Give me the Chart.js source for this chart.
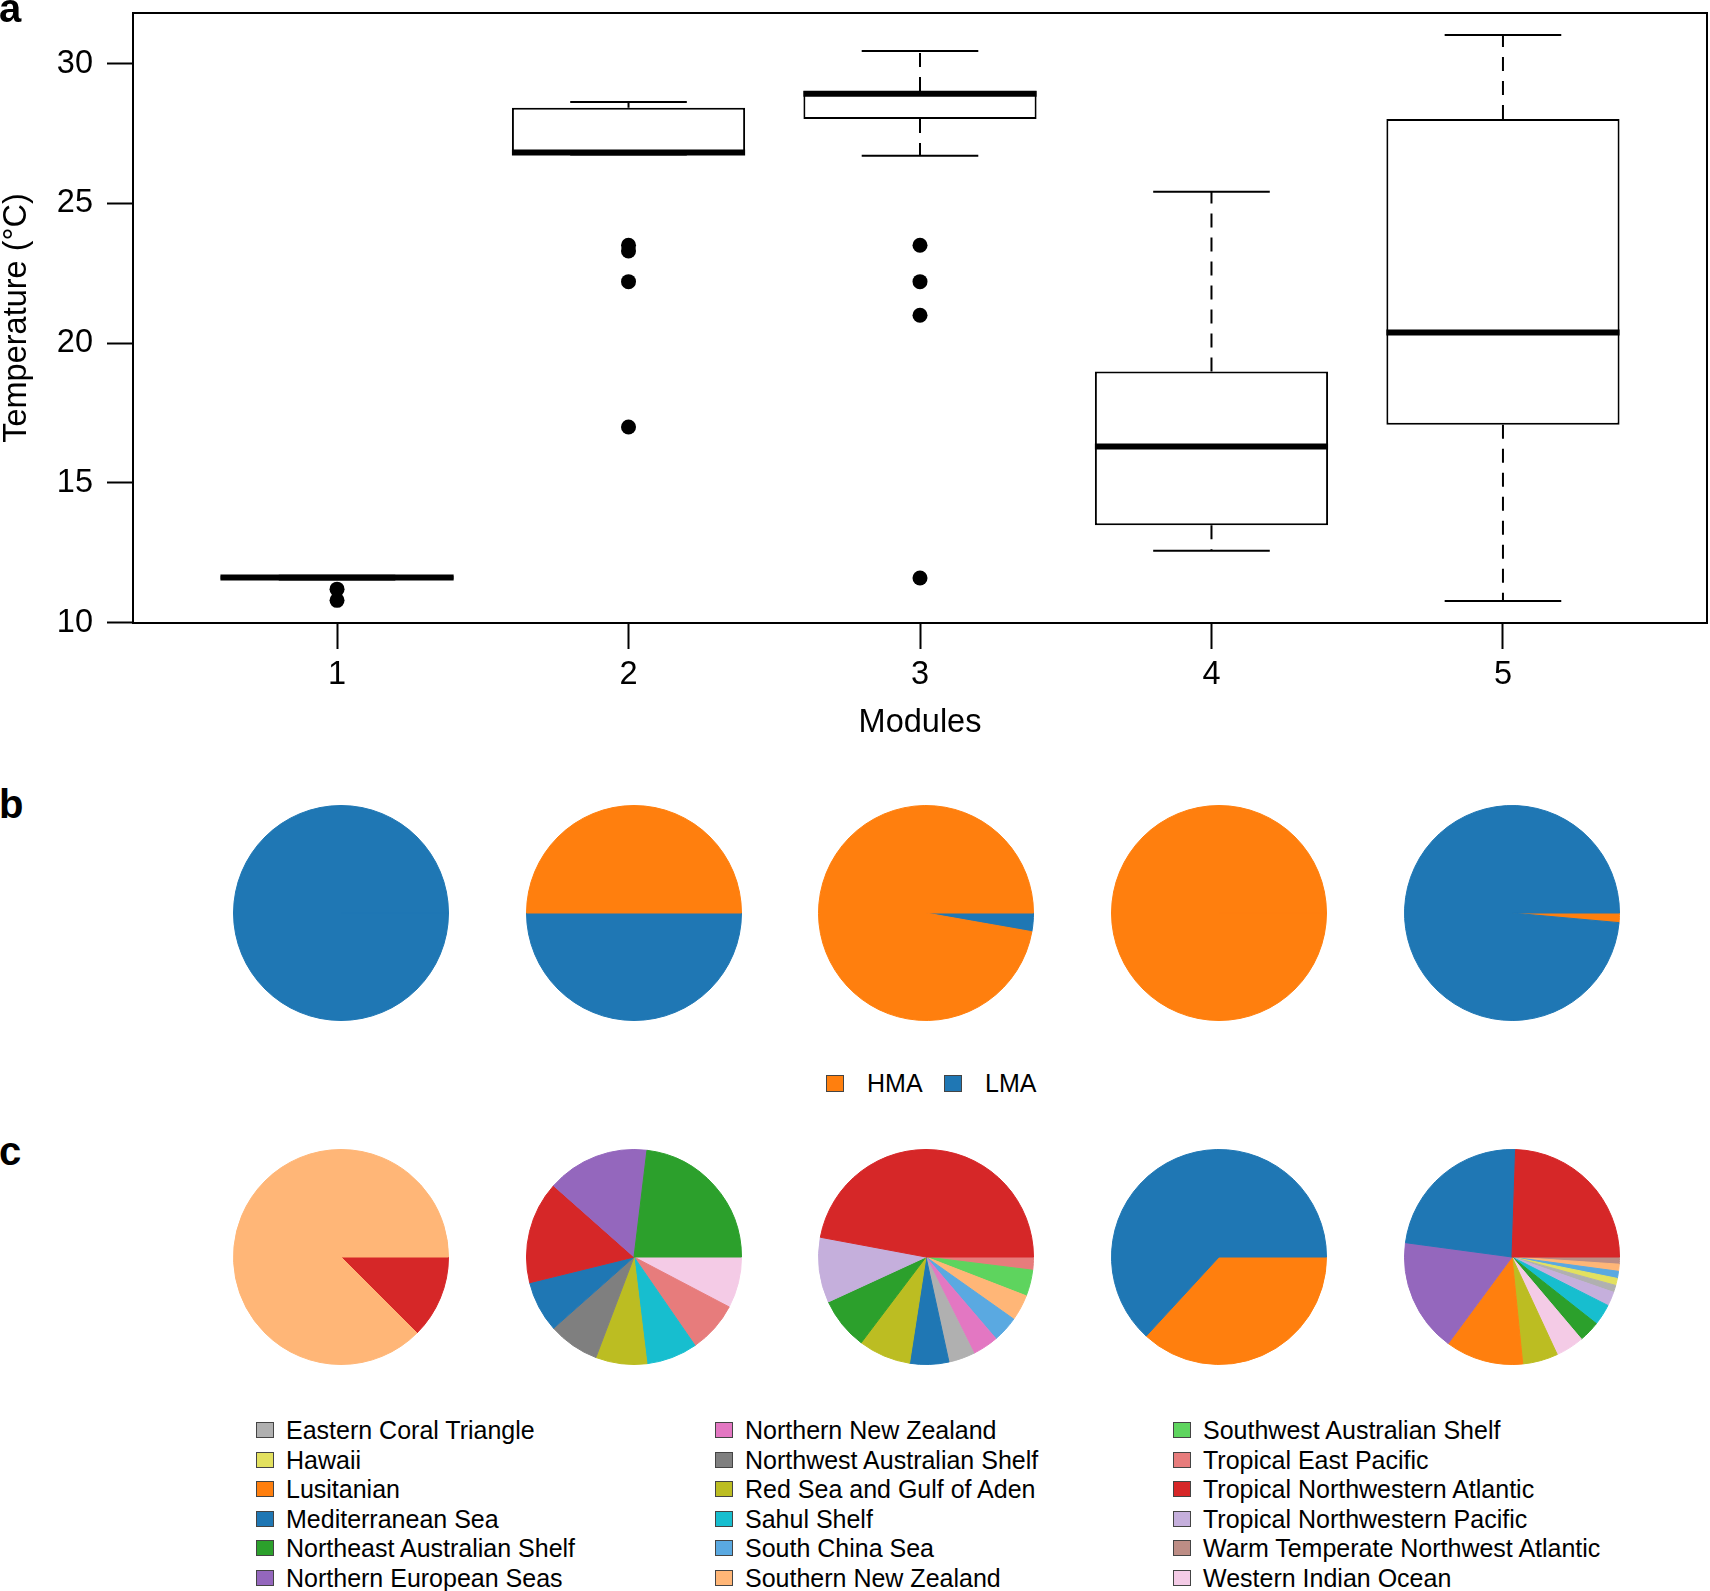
<!DOCTYPE html>
<html>
<head>
<meta charset="utf-8">
<script src="https://cdn.jsdelivr.net/npm/chart.js@4.4.1/dist/chart.umd.min.js"></script>
<style>
  html, body { margin: 0; padding: 0; background: #fff; }
  body { position: relative; width: 1710px; height: 1591px; overflow: hidden;
         font-family: "Liberation Sans", Arial, Helvetica, sans-serif; color: #000; }
  canvas { position: absolute; }
  .tag { position: absolute; font-weight: bold; font-size: 40px; line-height: 40px; }
  .key { position: absolute; font-size: 25px; line-height: 30px; white-space: nowrap; }
  .sq { position: absolute; box-sizing: border-box; border: 1px solid #444; }
</style>
</head>
<body>
<canvas id="boxplot" width="1710" height="760" style="left:0;top:0"></canvas>
<div class="tag" style="left:-1px;top:-12px">a</div>
<div class="tag" style="left:-1px;top:784px">b</div>
<div class="tag" style="left:-1px;top:1131px">c</div>

<script>
// ---- panel a : temperature per module ----
const modules = ['1', '2', '3', '4', '5'];
const whiskerLow = [11.55, 26.75, 26.70, 12.57, 10.78];
const boxQ1 = [11.55, 26.75, 28.02, 13.49, 17.08];
const boxMedian = [11.62, 26.82, 28.92, 16.30, 20.38];
const boxQ3 = [11.68, 28.42, 29.02, 18.99, 28.02];
const whiskerHigh = [11.68, 28.63, 30.45, 25.42, 31.02];
const outliers = [[11.2, 10.8], [23.5, 23.3, 22.2, 17.0], [23.5, 22.2, 21.0, 11.6], [], []];
const yTicks = [10, 15, 20, 25, 30];
const yMin = 9.99, yMax = 31.81;

// ---- panel b : HMA / LMA ----
const massTypes = ['HMA', 'LMA'];
const massColors = ['#ff7f0e', '#1f77b4'];
const hmaCounts = [0, 6, 35, 19, 1];
const lmaCounts = [8, 6, 1, 0, 69];

// ---- panel c : ecoregions ----
const regions = [
  'Eastern Coral Triangle', 'Hawaii', 'Lusitanian', 'Mediterranean Sea',
  'Northeast Australian Shelf', 'Northern European Seas', 'Northern New Zealand',
  'Northwest Australian Shelf', 'Red Sea and Gulf of Aden', 'Sahul Shelf',
  'South China Sea', 'Southern New Zealand', 'Southwest Australian Shelf',
  'Tropical East Pacific', 'Tropical Northwestern Atlantic',
  'Tropical Northwestern Pacific', 'Warm Temperate Northwest Atlantic', 'Western Indian Ocean'
];
const regionColors = [
  '#b0b0b0', '#e3e15f', '#ff7f0e', '#1f77b4', '#2ca02c', '#9467bd', '#e377c2',
  '#7f7f7f', '#bcbd22', '#17becf', '#5aa9e1', '#ffb677', '#5ed45e', '#e77c7c',
  '#d62728', '#c5afdc', '#bd8d85', '#f4cbe6'
];
const module1Regions = [0, 0, 0, 0, 0, 0, 0, 0, 0, 0, 0, 7, 0, 0, 1, 0, 0, 0];
const module2Regions = [0, 0, 0, 1, 3, 2, 0, 1, 1, 1, 0, 0, 0, 1, 2, 0, 0, 1];
const module3Regions = [2, 0, 0, 3, 4, 0, 2, 0, 4, 0, 2, 2, 2, 1, 24, 5, 0, 0];
const module4Regions = [0, 0, 7, 12, 0, 0, 0, 0, 0, 0, 0, 0, 0, 0, 0, 0, 0, 0];
const module5Regions = [1, 1, 11, 22, 3, 16, 0, 0, 5, 3, 1, 1, 0, 0, 23, 2, 1, 4];
const regionCounts = [module1Regions, module2Regions, module3Regions, module4Regions, module5Regions];

Chart.defaults.font.family = '"Liberation Sans", Arial, Helvetica, sans-serif';
Chart.defaults.color = '#000';

const boxHalf = 0.4;

// whiskers, caps, medians and the frame round the plot
const boxParts = {
  id: 'boxParts',
  afterDatasetsDraw(chart) {
    const { ctx, chartArea: area, scales: { x, y } } = chart;
    ctx.save();
    ctx.strokeStyle = '#000';
    modules.forEach((m, i) => {
      const cx = x.getPixelForValue(i + 1);
      const half = x.getPixelForValue(i + 1 + boxHalf) - cx;
      ctx.lineWidth = 2;
      ctx.setLineDash([14, 10]);
      ctx.beginPath();
      if (whiskerHigh[i] > boxQ3[i]) {
        ctx.moveTo(cx, y.getPixelForValue(boxQ3[i]));
        ctx.lineTo(cx, y.getPixelForValue(whiskerHigh[i]));
      }
      if (whiskerLow[i] < boxQ1[i]) {
        ctx.moveTo(cx, y.getPixelForValue(boxQ1[i]));
        ctx.lineTo(cx, y.getPixelForValue(whiskerLow[i]));
      }
      ctx.stroke();
      ctx.setLineDash([]);
      ctx.beginPath();
      [whiskerLow[i], whiskerHigh[i]].forEach(v => {
        const py = y.getPixelForValue(v);
        ctx.moveTo(cx - half / 2, py);
        ctx.lineTo(cx + half / 2, py);
      });
      ctx.stroke();
      ctx.lineWidth = 6;
      ctx.beginPath();
      const my = y.getPixelForValue(boxMedian[i]);
      ctx.moveTo(cx - half, my);
      ctx.lineTo(cx + half, my);
      ctx.stroke();
    });
    ctx.lineWidth = 2;
    ctx.strokeRect(area.left, area.top, area.right - area.left, area.bottom - area.top);
    ctx.restore();
  }
};

const axisFont = { size: 32.5, lineHeight: 1 };

new Chart(document.getElementById('boxplot'), {
  type: 'scatter',
  data: {
    datasets: [
      {
        type: 'bar',
        data: modules.map((m, i) => ({ x: i + 1, y: [boxQ1[i], boxQ3[i]] })),
        backgroundColor: '#fff',
        borderColor: '#000',
        borderWidth: 2,
        borderSkipped: false,
        categoryPercentage: 1,
        barPercentage: 0.8
      },
      {
        data: outliers.flatMap((vals, i) => vals.map(v => ({ x: i + 1, y: v }))),
        pointRadius: 7.5,
        pointBackgroundColor: '#000',
        pointBorderWidth: 0
      }
    ]
  },
  options: {
    responsive: false,
    animation: false,
    events: [],
    layout: { autoPadding: false, padding: { top: 13, right: 3, left: 0, bottom: 0 } },
    plugins: { legend: { display: false }, tooltip: { enabled: false } },
    scales: {
      x: {
        type: 'linear',
        min: 0.3,
        max: 5.7,
        offset: false,
        afterBuildTicks: s => { s.ticks = modules.map((m, i) => ({ value: i + 1 })); },
        afterFit: s => {
          s.height = 760 - 623;
          s.paddingLeft = s.paddingRight = s.paddingTop = s.paddingBottom = 0;
        },
        ticks: {
          callback: v => modules[Math.round(v) - 1],
          font: axisFont,
          padding: 10,
          maxRotation: 0,
          autoSkip: false
        },
        grid: { offset: false, drawOnChartArea: false, drawTicks: true, tickLength: 26, tickColor: '#000', tickWidth: 2 },
        border: { display: false },
        title: { display: true, text: 'Modules', font: axisFont, padding: { top: 0, bottom: 21 } }
      },
      y: {
        min: yMin,
        max: yMax,
        afterBuildTicks: s => { s.ticks = yTicks.map(v => ({ value: v })); },
        afterFit: s => {
          s.width = 133;
          s.paddingLeft = s.paddingRight = s.paddingTop = s.paddingBottom = 0;
        },
        ticks: { font: axisFont, padding: 14 },
        grid: { offset: false, drawOnChartArea: false, drawTicks: true, tickLength: 26, tickColor: '#000', tickWidth: 2 },
        border: { display: false },
        title: { display: true, text: 'Temperature (°C)', font: axisFont, padding: { top: 1, bottom: 0 } }
      }
    }
  },
  plugins: [boxParts]
});

// ---- pies ----
const pieCentersX = [341, 634, 926, 1219, 1512];
const pieRowY = [913, 1257];
const pieRadius = 108;

// R draws slices anticlockwise from 3 o'clock, largest first;
// Chart.js goes clockwise, so start at 3 o'clock and reverse the order
function slicesFor(counts, labels, colors) {
  const idx = counts.map((c, i) => i).filter(i => counts[i] > 0);
  idx.sort((a, b) => counts[b] - counts[a] || a - b);
  idx.reverse();
  return { labels: idx.map(i => labels[i]), data: idx.map(i => counts[i]), colors: idx.map(i => colors[i]) };
}

function makePie(cx, cy, slices) {
  const c = document.createElement('canvas');
  c.width = pieRadius * 2;
  c.height = pieRadius * 2;
  c.style.left = (cx - pieRadius) + 'px';
  c.style.top = (cy - pieRadius) + 'px';
  document.body.appendChild(c);
  new Chart(c, {
    type: 'pie',
    data: {
      labels: slices.labels,
      datasets: [{ data: slices.data, backgroundColor: slices.colors, borderColor: slices.colors, borderWidth: 1 }]
    },
    options: {
      responsive: false,
      animation: false,
      events: [],
      rotation: 90,
      layout: { padding: 0 },
      plugins: { legend: { display: false }, tooltip: { enabled: false } }
    }
  });
}

modules.forEach((m, i) => {
  makePie(pieCentersX[i], pieRowY[0], slicesFor([hmaCounts[i], lmaCounts[i]], massTypes, massColors));
  makePie(pieCentersX[i], pieRowY[1], slicesFor(regionCounts[i], regions, regionColors));
});

// ---- legends ----
function addKey(label, color, sqLeft, textLeft, cy, sqW, sqH) {
  const s = document.createElement('div');
  s.className = 'sq';
  s.style.cssText = `left:${sqLeft}px;top:${cy - sqH / 2}px;width:${sqW}px;height:${sqH}px;background:${color}`;
  document.body.appendChild(s);
  const t = document.createElement('div');
  t.className = 'key';
  t.style.left = textLeft + 'px';
  t.style.top = (cy - 15) + 'px';
  t.textContent = label;
  document.body.appendChild(t);
}

const massKeyX = [826, 944];
massTypes.forEach((label, i) => addKey(label, massColors[i], massKeyX[i], massKeyX[i] + 41, 1083, 18, 17));

const regionColX = [256, 715, 1173];
regions.forEach((label, i) => {
  const col = Math.floor(i / 6), row = i % 6;
  addKey(label, regionColors[i], regionColX[col], regionColX[col] + 30, 1430 + row * 29.5, 18, 16);
});
</script>
</body>
</html>
